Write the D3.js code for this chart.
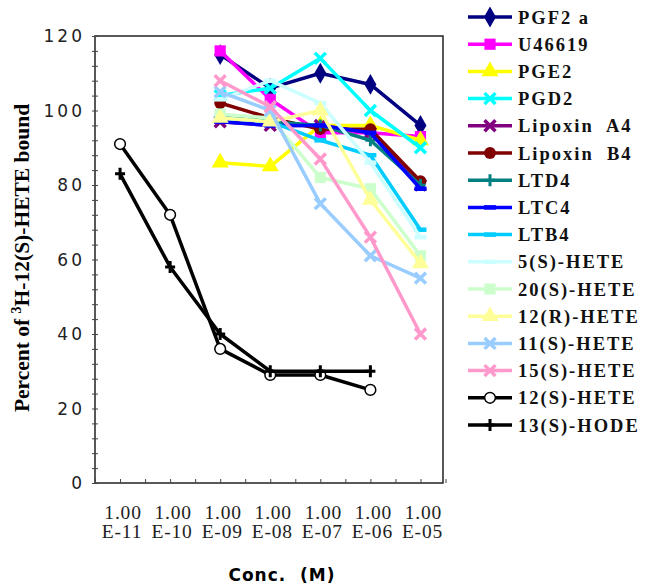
<!DOCTYPE html>
<html>
<head>
<meta charset="utf-8">
<script src="https://cdn.jsdelivr.net/npm/d3@7"></script>
<style>
  body { margin: 0; background: #fff; }
  text { white-space: pre; }
  .tick-y { font-family: "DejaVu Sans", Verdana, sans-serif; font-size: 17px; letter-spacing: 3px; fill: #222; }
  .tick-x { font-family: "Liberation Serif", serif; font-size: 19.5px; letter-spacing: 0.8px; fill: #222; }
  .legend-text { font-family: "Liberation Serif", serif; font-size: 18.5px; font-weight: bold; letter-spacing: 2px; fill: #111; }
</style>
</head>
<body>
<div id="chart"></div>
<script>
// Concentrations (x categories)
const concMant = ["1.00", "1.00", "1.00", "1.00", "1.00", "1.00", "1.00"];
const concExp = ["E-11", "E-10", "E-09", "E-08", "E-07", "E-06", "E-05"];

// Series (values start at first index given by start)
const seriesNames = ["PGF2 a", "U46619", "PGE2", "PGD2", "Lipoxin  A4", "Lipoxin  B4", "LTD4", "LTC4", "LTB4",
  "5(S)-HETE", "20(S)-HETE", "12(R)-HETE", "11(S)-HETE", "15(S)-HETE", "12(S)-HETE", "13(S)-HODE"];
const seriesColors = ["#000080", "#ff00ff", "#ffff00", "#00ffff", "#800080", "#800000", "#008080", "#0000ff", "#00ccff",
  "#ccffff", "#ccffcc", "#ffff99", "#99ccff", "#ff99cc", "#000000", "#000000"];
const seriesMarkers = ["diamond", "square", "triangle", "x", "x", "circle", "plus", "dash", "dash",
  "dash", "square", "triangle", "x", "x", "open", "plus"];
const seriesStart = [2, 2, 2, 2, 2, 2, 2, 2, 2, 2, 2, 2, 2, 2, 0, 0];
const seriesValues = [
  [115, 106, 110, 107, 96],
  [116, 103, 94, 94, 93],
  [86, 85, 96, 96, 92],
  [104, 106, 114, 100, 90],
  [97, 96, 96, 94, 80],
  [102, 98, 95, 95, 81],
  [99, 97, 96, 92, 80],
  [97, 96, 96, 94, 79],
  [98, 97, 92, 88, 68],
  [103, 108, 102, 86, 66],
  [99, 98, 82, 79, 61],
  [98, 97, 100, 76, 59],
  [105, 100, 75, 61, 55],
  [108, 101, 87, 66, 40],
  [91, 72, 36, 29, 29, 25],
  [83, 58, 40, 30, 30, 30]
];
const yTicks = [0, 20, 40, 60, 80, 100, 120];

const W = 647, H = 586;
const plot = {left: 95, right: 443, top: 36, bottom: 483};

const svg = d3.select("#chart").append("svg")
  .attr("width", W).attr("height", H);

const x = d3.scaleLinear().domain([-0.5, 6.45]).range([plot.left, plot.right]);
const y = d3.scaleLinear().domain([0, 120]).range([plot.bottom, plot.top]);

// frame
svg.append("rect")
  .attr("x", plot.left).attr("y", plot.top)
  .attr("width", plot.right - plot.left).attr("height", plot.bottom - plot.top)
  .attr("fill", "none").attr("stroke", "#222").attr("stroke-width", 1.5);

// y minor ticks every 4
const yAxis = d3.axisRight(y).tickValues(d3.range(0, 121, 4)).tickSize(6).tickFormat("");
svg.append("g").attr("transform", `translate(${plot.left - 3},0)`).call(yAxis)
  .call(g => g.select(".domain").remove())
  .selectAll("line").attr("stroke", "#444").attr("stroke-width", 1);

// x minor ticks every half category
const xAxis = d3.axisTop(x).tickValues(d3.range(-0.5, 6.6, 0.5)).tickSize(4).tickFormat("");
svg.append("g").attr("transform", `translate(0,${plot.bottom})`).call(xAxis)
  .call(g => g.select(".domain").remove())
  .selectAll("line").attr("stroke", "#444").attr("stroke-width", 1);

// y tick labels
svg.selectAll(".tick-y").data(yTicks).enter().append("text")
  .attr("class", "tick-y")
  .attr("x", plot.left - 10).attr("y", d => y(d) + 6)
  .attr("text-anchor", "end")
  .text(d => d);

// x tick labels
const xl = svg.selectAll(".xlab").data(concExp).enter().append("g");
xl.append("text").attr("class", "tick-x")
  .attr("x", (d, i) => x(i) + 3).attr("y", 519).attr("text-anchor", "middle")
  .text((d, i) => concMant[i]);
xl.append("text").attr("class", "tick-x")
  .attr("x", (d, i) => x(i) + 2).attr("y", 538).attr("text-anchor", "middle")
  .text(d => d);

// axis titles
svg.append("text")
  .attr("x", 282).attr("y", 581).attr("text-anchor", "middle")
  .style("font-family", "'DejaVu Sans', Verdana, sans-serif").style("font-weight", "bold").style("font-size", "17px")
  .style("letter-spacing", "1px")
  .text("Conc.  (M)");

const yt = svg.append("text")
  .attr("transform", "translate(29,258) rotate(-90)")
  .attr("text-anchor", "middle")
  .style("font-family", "'Liberation Serif', serif").style("font-weight", "bold").style("font-size", "21.5px");
yt.append("tspan").text("Percent of ");
yt.append("tspan").attr("dy", -8).style("font-size", "14px").text("3");
yt.append("tspan").attr("dy", 8).text("H-12(S)-HETE bound");

// marker drawing
function drawMarker(g, type, color) {
  const sym = {
    diamond: d3.symbolDiamond, square: d3.symbolSquare, triangle: d3.symbolTriangle,
    circle: d3.symbolCircle, open: d3.symbolCircle
  };
  if (type === "x") {
    g.append("path").attr("d", d3.symbol(d3.symbolX, 80)()).attr("fill", "none")
      .attr("stroke", color).attr("stroke-width", 3.5);
  } else if (type === "plus") {
    g.append("path").attr("d", "M-5,0H5M0,-6V6").attr("fill", "none")
      .attr("stroke", color).attr("stroke-width", 3);
  } else if (type === "dash") {
    g.append("path").attr("d", "M-6,0H6").attr("fill", "none")
      .attr("stroke", color).attr("stroke-width", 4.5);
  } else if (type === "open") {
    g.append("path").attr("d", d3.symbol(sym.open, 90)()).attr("fill", "#fff")
      .attr("stroke", color).attr("stroke-width", 1.5);
  } else {
    const size = type === "circle" ? 110 : 125;
    g.append("path").attr("d", d3.symbol(sym[type], size)()).attr("fill", color);
  }
}

const line = d3.line().x(d => x(d.i)).y(d => y(d.v));

seriesNames.forEach((name, s) => {
  const pts = seriesValues[s].map((v, k) => ({i: seriesStart[s] + k, v: v}));
  svg.append("path").datum(pts)
    .attr("d", line).attr("fill", "none")
    .attr("stroke", seriesColors[s]).attr("stroke-width", 3.5)
    .attr("stroke-linejoin", "round");
  pts.forEach(p => {
    const g = svg.append("g").attr("transform", `translate(${x(p.i)},${y(p.v)})`);
    drawMarker(g, seriesMarkers[s], seriesColors[s]);
  });
});

// legend
const legend = svg.append("g");
seriesNames.forEach((name, s) => {
  const ly = 17 + s * 27.2;
  legend.append("line").attr("x1", 468).attr("x2", 512).attr("y1", ly).attr("y2", ly)
    .attr("stroke", seriesColors[s]).attr("stroke-width", 3.5);
  const g = legend.append("g").attr("transform", `translate(490,${ly})`);
  drawMarker(g, seriesMarkers[s], seriesColors[s]);
  legend.append("text").attr("class", "legend-text")
    .attr("x", 518).attr("y", ly + 6.5).text(name);
});
</script>
</body>
</html>
